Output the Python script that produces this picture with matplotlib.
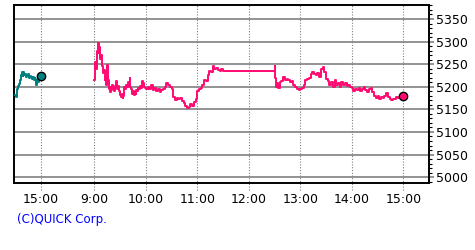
#!/usr/bin/env python3
"""Intraday price chart (previous close segment + today's session)."""

import matplotlib

matplotlib.use("Agg", force=True)
import matplotlib.pyplot as plt
from matplotlib.ticker import MultipleLocator

plt.rcParams["font.family"] = ["Liberation Sans Narrow", "DejaVu Sans"]

# previous day, last half hour (clock minutes since midnight)
PREV_MINUTES = list(range(870, 901))
PREV_VALUES = [
    5182, 5178, 5187, 5196, 5202, 5207, 5215, 5226, 5233, 5224,
    5233, 5226, 5229, 5222, 5226, 5229, 5224, 5220, 5224, 5222,
    5218, 5222, 5215, 5220, 5218, 5204, 5215, 5211, 5218, 5220,
    5224,
]

# today, minutes since 9:00
DAY_MINUTES = [
    0, 1, 2, 3, 4, 5, 6, 7, 8, 9, 10, 11, 12, 13, 14, 15, 16, 17, 18, 19,
    20, 21, 22, 23, 24, 25, 26, 27, 28, 29, 30, 31, 32, 33, 34, 35, 36, 37, 38, 39,
    40, 41, 42, 43, 44, 45, 46, 47, 48, 49, 50, 51, 52, 53, 54, 55, 56, 57, 58, 59,
    60, 62, 64, 66, 68, 70, 72, 74, 76, 78, 80, 82, 84, 86, 88, 90, 92, 94, 96, 98,
    100, 102, 104, 106, 108, 110, 112, 114, 116, 118, 120, 122, 124, 126, 128, 130,
    132, 134, 136, 138, 140, 142, 144, 146, 148, 150,
    210, 211, 212, 213, 214, 216, 218, 220, 222, 224, 226, 228, 230, 232, 234, 236,
    238, 240, 242, 244, 246, 248, 250, 252, 254, 256, 258, 260, 262, 264, 266, 268,
    270, 272, 274, 276, 278, 280, 282, 284, 286, 288, 290, 292, 294, 296, 298, 300,
    302, 304, 306, 308, 310, 312, 314, 316, 318, 320, 322, 324, 326, 328, 330, 332,
    334, 336, 338, 340, 342, 344, 346, 348, 350, 352, 354, 356, 358, 360,
]
DAY_VALUES = [
    5215, 5255, 5240, 5280, 5296, 5275, 5288, 5262, 5270, 5245, 5230, 5238, 5215, 5222, 5205, 5248, 5215, 5195, 5188, 5200,
    5193, 5205, 5198, 5190, 5202, 5212, 5198, 5195, 5202, 5190, 5182, 5178, 5185, 5176, 5180, 5200, 5195, 5205, 5200, 5210,
    5205, 5220, 5200, 5195, 5185, 5190, 5182, 5188, 5185, 5192, 5190, 5198, 5195, 5202, 5198, 5205, 5212, 5208, 5200, 5198,
    5195, 5200, 5196, 5203, 5193, 5197, 5190, 5194, 5188, 5193, 5195, 5200, 5208, 5205, 5200, 5195, 5178, 5170, 5176, 5172,
    5175, 5168, 5165, 5158, 5152, 5156, 5162, 5158, 5166, 5172, 5190, 5196, 5198, 5205, 5215, 5212,
    5225, 5235, 5232, 5245, 5240, 5242, 5238, 5236, 5240, 5235,
    5245, 5220, 5200, 5208, 5198, 5210, 5212, 5222, 5215, 5218, 5214, 5210, 5212, 5205, 5200, 5196,
    5192, 5195, 5198, 5205, 5215, 5218, 5220, 5228, 5232, 5228, 5225, 5230, 5222, 5240, 5244, 5232,
    5218, 5212, 5205, 5210, 5200, 5215, 5205, 5208, 5200, 5210, 5205, 5208, 5202, 5205, 5200, 5198,
    5190, 5196, 5192, 5198, 5190, 5195, 5200, 5192, 5188, 5194, 5198, 5188, 5180, 5176, 5180, 5174,
    5178, 5176, 5180, 5186, 5178, 5172, 5170, 5174, 5172, 5178, 5176, 5180, 5178, 5180,
]

TICK_LABELS = ["15:00", "9:00", "10:00", "11:00", "12:00", "13:00", "14:00", "15:00"]
Y_TICKS = [5000, 5050, 5100, 5150, 5200, 5250, 5300, 5350]

PREV_CLOSE_POS = 7.957  # where yesterday's 15:00 sits on the hour axis

GREEN = "#008080"
PINK = "#ff0a72"


def main() -> int:
    prev_x = [PREV_CLOSE_POS - (900 - m) / 60 for m in PREV_MINUTES]
    day_x = [9 + m / 60 for m in DAY_MINUTES]

    fig = plt.figure(figsize=(4.75, 2.5), dpi=100)
    ax = fig.add_axes([14 / 475, 1 - 183 / 250, 415 / 475, 178 / 250])

    ax.set_xlim(7.44, 15.5)
    ax.set_ylim(4987, 5381)

    tick_pos = [PREV_CLOSE_POS] + list(range(9, 16))
    for pos in tick_pos:
        ax.axvline(pos, ymin=-0.04, ymax=1, color="#808080", lw=0.8,
                   ls=(0, (1, 1.5)), clip_on=False, zorder=1)
    for val in Y_TICKS:
        ax.axhline(val, color="#808080", lw=1.2, zorder=1)

    ax.plot(prev_x, PREV_VALUES, color=GREEN, lw=1.4, drawstyle="steps-post", zorder=3)
    ax.plot(day_x, DAY_VALUES, color=PINK, lw=1.4, drawstyle="steps-post", zorder=3)
    ax.plot(prev_x[-1], PREV_VALUES[-1], "o", ms=6, mfc=GREEN, mec="black", mew=1.0, zorder=4)
    ax.plot(day_x[-1], DAY_VALUES[-1], "o", ms=6, mfc=PINK, mec="black", mew=1.0, zorder=4)

    ax.set_xticks(tick_pos)
    ax.set_xticklabels(TICK_LABELS)
    ax.tick_params(axis="x", length=0, pad=7.5, labelsize=9)

    ax.yaxis.tick_right()
    ax.set_yticks(Y_TICKS)
    ax.yaxis.set_minor_locator(MultipleLocator(10))
    ax.tick_params(axis="y", which="major", length=3.5, width=1.2, color="#808080",
                   pad=1.5, labelsize=9)
    ax.tick_params(axis="y", which="minor", length=2.2, width=0.8, color="black")

    for spine in ax.spines.values():
        spine.set_linewidth(1.4)
        spine.set_color("black")

    fig.text(17 / 475, 1 - 219 / 250, "(C)QUICK Corp.", color="#0000ff",
             fontsize=8.5, va="center", ha="left")

    fig.savefig("out.png", dpi=100)
    plt.close(fig)
    return 0


if __name__ == "__main__":
    raise SystemExit(main())
